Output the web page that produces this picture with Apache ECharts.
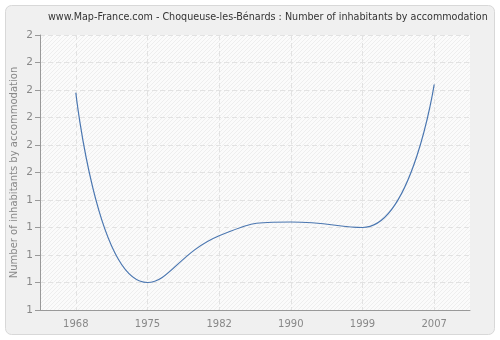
<!DOCTYPE html>
<html>
<head>
<meta charset="utf-8">
<script src="https://cdn.jsdelivr.net/npm/echarts@6/dist/echarts.min.js"></script>
<style>
  html, body { margin: 0; padding: 0; background: #fff; }
  #main { width: 500px; height: 340px; }
</style>
</head>
<body>
<div id="main"></div>
<script>
var years = ['1968', '1975', '1982', '1990', '1999', '2007'];
var ratio = [1.79, 1.10, 1.27, 1.32, 1.30, 1.82];

// diagonal hatch for the plot background
function hatch() {
    var n = 4;
    var c = document.createElement('canvas');
    c.width = n; c.height = n;
    var ctx = c.getContext('2d');
    ctx.fillStyle = '#fbfbfb';
    ctx.fillRect(0, 0, n, n);
    ctx.strokeStyle = '#eeeeee';
    ctx.lineWidth = 1;
    ctx.beginPath();
    ctx.moveTo(-1, n + 1); ctx.lineTo(n + 1, -1);
    ctx.moveTo(-1, 1); ctx.lineTo(1, -1);
    ctx.moveTo(n - 1, n + 1); ctx.lineTo(n + 1, n - 1);
    ctx.stroke();
    return c;
}

var chart = echarts.init(document.getElementById('main'));
var font = 'DejaVu Sans';
var option = {
    animation: false,
    backgroundColor: '#fff',
    textStyle: { fontFamily: font },
    graphic: [{
        type: 'rect',
        z: -10,
        shape: { x: 5.5, y: 5.5, width: 489, height: 329, r: 6 },
        style: { fill: '#f0f0f0', stroke: '#d8d8d8', lineWidth: 1 }
    }],
    title: {
        text: 'www.Map-France.com - Choqueuse-les-Bénards : Number of inhabitants by accommodation',
        left: 43,
        top: 7,
        textStyle: { fontSize: 9.6, fontWeight: 'normal', color: '#333', fontFamily: font }
    },
    grid: {
        left: 40, right: 30, top: 35, bottom: 30,
        outerBoundsMode: 'none',
        containLabel: false,
        show: true,
        backgroundColor: { image: hatch(), repeat: 'repeat' },
        borderWidth: 0
    },
    xAxis: {
        type: 'category',
        data: years,
        boundaryGap: true,
        axisLine: { lineStyle: { color: '#999' } },
        axisTick: { alignWithLabel: true, length: 5, lineStyle: { color: '#999' } },
        axisLabel: { color: '#888', fontSize: 10, margin: 9 },
        splitLine: { show: true, alignWithLabel: true, lineStyle: { color: '#e2e2e2', type: [5, 3] } }
    },
    yAxis: {
        type: 'value',
        min: 1, max: 2, interval: 0.1,
        name: 'Number of inhabitants by accommodation',
        nameLocation: 'middle',
        nameGap: 21,
        nameMoveOverlap: false,
        nameTextStyle: { color: '#888', fontSize: 10 },
        axisLine: { show: true, lineStyle: { color: '#999' } },
        axisTick: { show: true, length: 5, lineStyle: { color: '#999' } },
        axisLabel: {
            color: '#888', fontSize: 10.5, margin: 7,
            formatter: function (v) { return Math.round(v); }
        },
        splitLine: { show: true, lineStyle: { color: '#e2e2e2', type: [5, 3] } }
    },
    series: [{
        type: 'line',
        data: ratio,
        smooth: 0.5,
        symbol: 'none',
        lineStyle: { color: '#4a76b0', width: 1.2 }
    }]
};
chart.setOption(option);
</script>
</body>
</html>
